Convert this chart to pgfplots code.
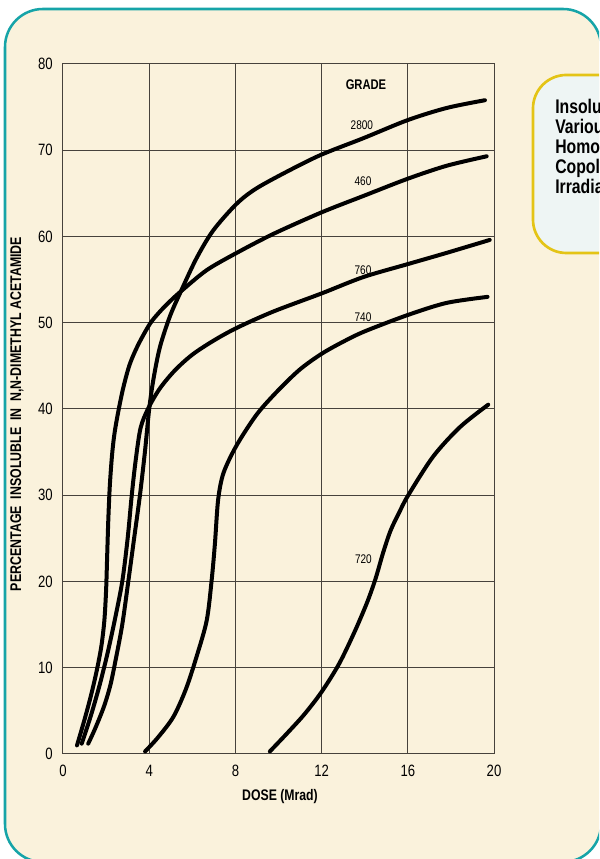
\documentclass[border=0pt]{standalone}
\usepackage{fontspec}
\setmainfont{Liberation Sans}[FakeStretch=0.8]
\usepackage{pgfplots}
\pgfplotsset{compat=1.18}
\definecolor{bgbeige}{RGB}{250,242,220}
\definecolor{tealb}{RGB}{22,164,168}
\definecolor{yelb}{RGB}{228,196,22}
\definecolor{boxfill}{RGB}{238,245,244}
\definecolor{gridc}{RGB}{70,66,60}
\begin{document}
\begin{tikzpicture}[x=0.75pt,y=0.75pt]
\useasboundingbox (0,0) rectangle (599,859);
\clip (0,0) rectangle (599,859);
\draw[draw=tealb, line width=1.9pt, fill=bgbeige, rounded corners=28.5pt] (5,-3) rectangle (601,850);
\draw[draw=yelb, line width=2pt, fill=boxfill, rounded corners=25pt] (533,606) rectangle (680,784);
\begin{scope}[every node/.style={anchor=base west, inner sep=0pt, font=\bfseries\fontsize{14.8}{16}\selectfont}]
\node at (555,745) {Insoluble};
\node at (555,725) {Various};
\node at (555,705) {Homopolymers};
\node at (555,685) {Copolymers};
\node at (555,665) {Irradiated};
\end{scope}
\begin{axis}[at={(47.25pt,78.75pt)}, anchor=south west,
  width=323.25pt, height=517.5pt, scale only axis,
  xmin=0, xmax=20, ymin=0, ymax=80,
  xtick={0,4,...,20}, ytick={0,10,...,80},
  grid=major, major grid style={gridc, line width=0.75pt},
  axis line style={gridc, line width=0.75pt},
  major tick length=0pt,
  tick label style={font=\fontsize{12.3}{14}\selectfont},
  /pgf/number format/assume math mode=true,
  xticklabel style={anchor=center, inner sep=0pt, yshift=-12.4pt},
  yticklabel style={anchor=east, inner sep=0pt, xshift=-7.5pt},
  clip=false]
% Grade 2800
\addplot[black, line width=3pt, smooth, tension=0.5, line cap=round] coordinates {
(1.17,1.2) (1.5,3) (1.9,5.5) (2.2,8) (2.45,11) (2.75,15) (3.03,20) (3.3,25) (3.57,30) (3.8,35) (4.0,40) (4.2,43.5) (4.5,47.2) (4.97,50.8) (5.5,53.8) (6.2,57.5) (6.97,60.7) (8.06,63.8) (8.99,65.6) (10.53,67.7) (12.0,69.5) (13.94,71.4) (16.0,73.5) (17.8,74.9) (19.58,75.8)};
% Grade 460
\addplot[black, line width=3pt, smooth, tension=0.5, line cap=round] coordinates {
(0.65,1) (1.0,4) (1.3,6.8) (1.56,9.6) (1.78,12.5) (1.92,15.5) (2.0,19) (2.05,23) (2.1,27) (2.17,31) (2.27,34.5) (2.38,37) (2.55,39.5) (2.8,42.5) (3.1,45.2) (3.5,47.5) (4.04,49.9) (4.5,51.3) (4.97,52.5) (5.5,53.7) (6.67,56.1) (8.06,58.1) (9.76,60.3) (12.0,62.8) (13.94,64.7) (16.0,66.7) (17.8,68.2) (19.66,69.3)};
% Grade 760
\addplot[black, line width=3pt, smooth, tension=0.5, line cap=round] coordinates {
(0.87,1.2) (1.3,4.5) (1.7,8) (2.05,11.5) (2.4,15.5) (2.75,20) (3.0,25) (3.19,30) (3.37,34) (3.6,37.8) (3.96,40.1) (4.5,42.4) (5.2,44.5) (6.0,46.3) (6.97,47.9) (8.06,49.4) (9.76,51.3) (12.0,53.4) (13.94,55.3) (16.0,56.8) (17.8,58.1) (19.8,59.6)};
% Grade 740
\addplot[black, line width=3pt, smooth, tension=0.5, line cap=round] coordinates {
(3.81,0.3) (4.4,1.9) (5.12,4.3) (5.7,7.5) (6.2,11.3) (6.67,15.5) (6.9,20.2) (7.05,24.4) (7.2,29.5) (7.45,32.6) (8.06,35.8) (9.0,39.4) (10.0,42.2) (11.0,44.6) (12.0,46.4) (13.0,47.8) (14.0,49.0) (16.0,50.9) (17.8,52.3) (19.7,53.0)};
% Grade 720
\addplot[black, line width=3pt, smooth, tension=0.5, line cap=round] coordinates {
(9.6,0.3) (10.4,2.4) (11.2,4.6) (12.0,7.2) (12.8,10.4) (13.5,14.0) (14.1,17.5) (14.5,20.3) (14.85,23.3) (15.2,25.9) (15.6,28.0) (16.02,30.0) (17.18,34.5) (18.42,37.9) (19.73,40.5)};
\node[font=\bfseries\fontsize{10.5}{12}\selectfont] at (axis cs:14.06,77.6) {GRADE};
\begin{scope}[every node/.style={font=\fontsize{9.4}{11}\selectfont, inner sep=0pt}]
\node at (axis cs:13.87,72.9) {2800};
\node at (axis cs:13.92,66.4) {460};
\node at (axis cs:13.92,56.1) {760};
\node at (axis cs:13.92,50.7) {740};
\node at (axis cs:13.94,22.6) {720};
\end{scope}
\end{axis}
\node[font=\bfseries\fontsize{11.5}{13}\selectfont] at (280,62) {DOSE (Mrad)};
\node[rotate=90, font=\bfseries\fontsize{11.6}{13}\selectfont] at (17,445) {PERCENTAGE\ \ INSOLUBLE\ \ IN\ \ N,N-DIMETHYL ACETAMIDE};
\end{tikzpicture}
\end{document}
